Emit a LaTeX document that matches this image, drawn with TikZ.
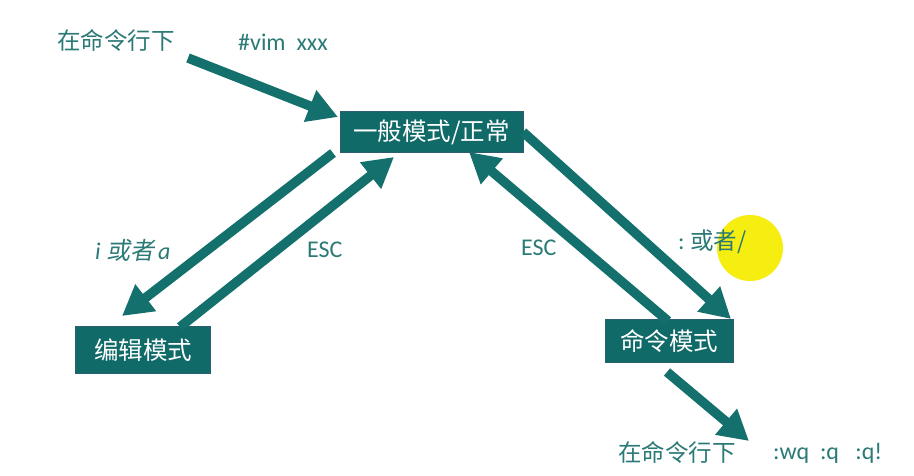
\documentclass[tikz,border=0pt]{standalone}
\usepackage{fontspec}
\setmainfont{Carlito}
\newfontfamily\cjk{Noto Sans CJK SC}
\newfontfamily\cjkit[FakeSlant=0.2]{Noto Sans CJK SC}
\usetikzlibrary{arrows.meta}
\definecolor{boxfill}{HTML}{0F6A68}
\definecolor{boxline}{HTML}{2D5E70}
\definecolor{arrowc}{HTML}{13706C}
\definecolor{txtc}{HTML}{2B7A76}
\definecolor{hilite}{HTML}{F6EE10}
\begin{document}
\begin{tikzpicture}[x=1pt,y=-1pt,
  modebox/.style={draw=boxline,line width=1pt,fill=boxfill,text=white,inner sep=0pt,
    font=\cjk\fontsize{24.5}{26}\selectfont},
  bigarrow/.style={draw=arrowc,line width=9.5pt,-{Triangle[length=30pt,width=32pt]}},
  lbl/.style={text=txtc,inner sep=0pt,font=\fontsize{24}{26}\selectfont},
  cjklbl/.style={text=txtc,inner sep=0pt,font=\cjk\fontsize{23.5}{26}\selectfont}]
\useasboundingbox[fill=white] (0,0) rectangle (914,476);

% highlight
\fill[hilite] (750,248) circle (33);

% boxes
\node[modebox,minimum width=183pt,minimum height=41pt] (gen) at (431.5,132.5) {一般模式/正常};
\node[modebox,minimum width=135pt,minimum height=47pt] (edit) at (143.4,350.3) {编辑模式};
\node[modebox,minimum width=128pt,minimum height=43pt] (cmd) at (669,341.4) {命令模式};

% labels
\node[cjklbl,anchor=west] (top1) at (57,40) {在命令行下};
\node[lbl,anchor=west] (top2) at (238,42) {\#vim\ \ xxx};
\node[lbl,anchor=west] (ia) at (95,250) {\itshape i {\cjkit 或者}\,a};
\node[lbl,anchor=west] (esc1) at (307,250) {ESC};
\node[lbl,anchor=west] (esc2) at (521,248) {ESC};
\node[lbl,anchor=west] (colon) at (678,242) {:\ {\cjk\fontsize{23.5}{26}\selectfont 或者/}};
\node[cjklbl,anchor=west] (bot1) at (618,452) {在命令行下};
\node[lbl,anchor=west] (bot2) at (773,453) {:wq\ \ :q\ \ \ :q!};

% arrow end points
\coordinate (s1) at (188,58);   \coordinate (e1) at (338,117);
\coordinate (s2) at (333,153);  \coordinate (e2) at (122,316);
\coordinate (s3) at (180,327);  \coordinate (e3) at (394,157);
\coordinate (s4) at (668,321);  \coordinate (e4) at (469,152);
\coordinate (s5) at (523,132);  \coordinate (e5) at (731,319);
\coordinate (s6) at (667,372);  \coordinate (e6) at (749,441);

\draw[bigarrow] (s1) -- (e1);
\draw[bigarrow] (s2) -- (e2);
\draw[bigarrow] (s3) -- (e3);
\draw[bigarrow] (s4) -- (e4);
\draw[bigarrow] (s5) -- (e5);
\draw[bigarrow] (s6) -- (e6);
\end{tikzpicture}
\end{document}
